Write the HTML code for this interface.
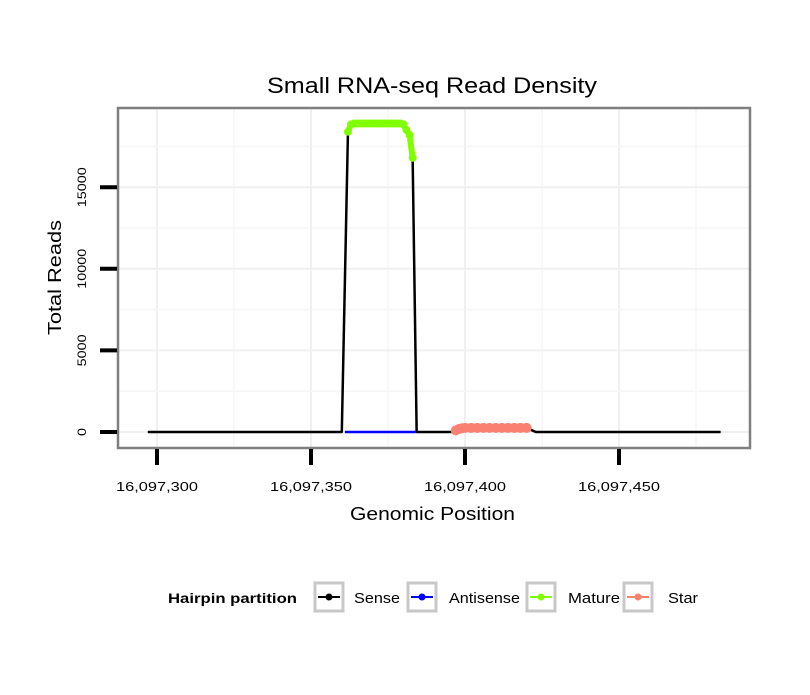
<!DOCTYPE html>
<html><head><meta charset="utf-8"><style>
body{margin:0;background:#fff}
svg text{font-family:"Liberation Sans",sans-serif}
</style></head><body>
<svg id="chart" width="810" height="690" viewBox="0 0 810 690">
<rect x="0" y="0" width="810" height="690" fill="#fff"/>
<text x="267" y="93" font-size="22" textLength="330" lengthAdjust="spacingAndGlyphs">Small RNA-seq Read Density</text>
<g id="grid"></g>
<g id="series"></g>
<rect x="118" y="108" width="632" height="340" fill="none" stroke="#7f7f7f" stroke-width="2.5"/>
<g id="axes"></g>
<text x="350" y="520" font-size="18" textLength="165" lengthAdjust="spacingAndGlyphs">Genomic Position</text>
<text transform="translate(61,335) rotate(-90)" font-size="18" textLength="115" lengthAdjust="spacingAndGlyphs">Total Reads</text>
<g id="legend">
<text x="168" y="603" font-size="14" font-weight="bold" textLength="129" lengthAdjust="spacingAndGlyphs">Hairpin partition</text>
</g>
</svg>
<script>
const xTicks=[16097300,16097350,16097400,16097450];
const xTickLabels=["16,097,300","16,097,350","16,097,400","16,097,450"];
const yTicks=[0,5000,10000,15000];
const yTickLabels=["0","5000","10000","15000"];
const sensePos=[16097297,16097360,16097362,16097363,16097380,16097381,16097382,16097383,16097384.3,16097397,16097399,16097420,16097423,16097483];
const senseVal=[0,0,18400,18900,18900,18500,18200,16800,0,0,250,250,0,0];
const antisensePos=[16097361,16097384];
const antisenseVal=[0,0];
const maturePos=[16097362,16097363,16097364,16097365,16097366,16097367,16097368,16097369,16097370,16097371,16097372,16097373,16097374,16097375,16097376,16097377,16097378,16097379,16097380,16097381,16097382,16097383];
const matureVal=[18400,18850,18900,18900,18900,18900,18900,18900,18900,18900,18900,18900,18900,18900,18900,18900,18900,18900,18850,18500,18200,16800];
const starPos=[16097397,16097398,16097399,16097400,16097402,16097404,16097406,16097408,16097410,16097412,16097414,16097416,16097418,16097420];
const starVal=[100,180,230,250,250,250,250,250,250,250,250,250,250,250];
const X=v=>157+(v-16097300)*3.08;
const Y=v=>432-v*0.01632;
const NS="http://www.w3.org/2000/svg";
function mk(tag,attrs,parent){const e=document.createElementNS(NS,tag);for(const k in attrs)e.setAttribute(k,attrs[k]);parent.appendChild(e);return e;}
const grid=document.getElementById('grid'),series=document.getElementById('series'),axes=document.getElementById('axes'),legend=document.getElementById('legend');
for(let v=16097275;v<=16097475;v+=25){const x=X(v);if(x<119||x>749)continue;
const g=mk('line',{x1:x,x2:x,y1:109,y2:447,stroke:v%50===0?'#f0f0f0':'#f6f6f6','stroke-width':v%50===0?2:1.5},grid);
}
for(let v=0;v<=20000;v+=2500){const y=Y(v);if(y<109)continue;
const g=mk('line',{x1:119,x2:749,y1:y,y2:y,stroke:v%5000===0?'#f0f0f0':'#f6f6f6','stroke-width':v%5000===0?2:1.5},grid);
}
function line(pos,val,color,name,w){const p=mk('polyline',{points:pos.map((v,i)=>X(v)+','+Y(val[i])).join(' '),fill:'none',stroke:color,'stroke-width':w,'stroke-linejoin':'round'},series);
}
function pts(pos,val,color,name,r){pos.forEach((v,i)=>{const c=mk('circle',{cx:X(v),cy:Y(val[i]),r:r,fill:color},series);
});}
line(sensePos,senseVal,'#000','sense-line',2.5);
line(antisensePos,antisenseVal,'#0000ff','antisense-line',2.5);
line(maturePos,matureVal,'#7fff00','mature-line',6);
pts(maturePos,matureVal,'#7fff00','mature-point',4);
line(starPos,starVal,'#fa8072','star-line',8);
pts(starPos,starVal,'#fa8072','star-point',5);
xTicks.forEach((v,i)=>{const x=X(v);
const t=mk('line',{x1:x,x2:x,y1:449,y2:465,stroke:'#000','stroke-width':4},axes);

const l=mk('text',{x:x-41,y:491,'font-size':13,textLength:82,lengthAdjust:'spacingAndGlyphs'},axes);l.textContent=xTickLabels[i];
});
yTicks.forEach((v,i)=>{const y=Y(v);
const t=mk('line',{x1:100,x2:117,y1:y,y2:y,stroke:'#000','stroke-width':4},axes);

const len=yTickLabels[i].length*8;
const l=mk('text',{transform:`translate(86,${y+len/2}) rotate(-90)`,'font-size':12,textLength:len,lengthAdjust:'spacingAndGlyphs'},axes);l.textContent=yTickLabels[i];
});
const leg=[['Sense','#000',315,354,46],['Antisense','#0000ff',408,449,71],['Mature','#7fff00',527,568,52],['Star','#fa8072',624,668,30]];
leg.forEach(([n,c,x,tx,tl])=>{
const b=mk('rect',{x:x,y:583,width:28,height:28,fill:'#fff',stroke:'#c8c8c8','stroke-width':3},legend);

mk('line',{x1:x+3,x2:x+25,y1:597,y2:597,stroke:c,'stroke-width':2},legend);
mk('circle',{cx:x+14,cy:597,r:3.5,fill:c},legend);
const t=mk('text',{x:tx,y:603,'font-size':15,textLength:tl,lengthAdjust:'spacingAndGlyphs'},legend);t.textContent=n;
});
</script>
</body></html>
